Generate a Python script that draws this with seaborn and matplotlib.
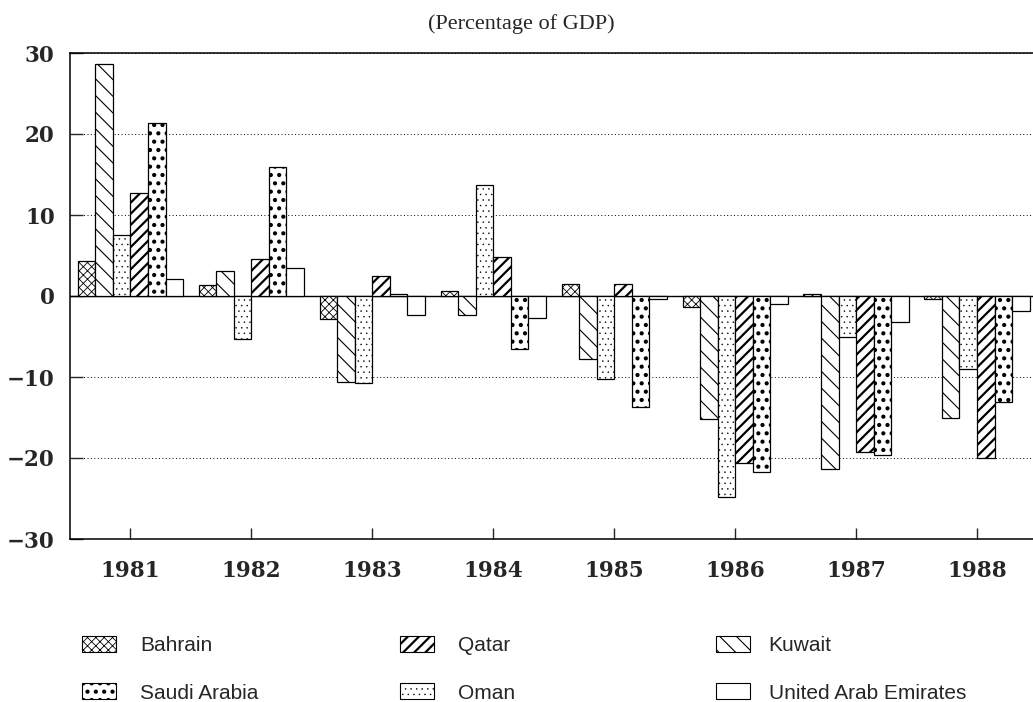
import numpy as np
import pandas as pd
import seaborn as sns
import matplotlib.pyplot as plt
from matplotlib.patches import Patch

# Budget balance by year, percent of GDP
years = ["1981", "1982", "1983", "1984", "1985", "1986", "1987", "1988"]
countries = ["Bahrain", "Kuwait", "Oman", "Qatar", "Saudi Arabia", "United Arab Emirates"]

bahrain = [4.3, 1.4, -2.9, 0.6, 1.5, -1.3, 0.3, -0.4]
kuwait = [28.6, 3.1, -10.6, -2.4, -7.8, -15.2, -21.4, -15.0]
oman = [7.5, -5.3, -10.8, 13.7, -10.3, -24.8, -5.0, -9.0]
qatar = [12.7, 4.6, 2.5, 4.8, 1.5, -20.6, -19.3, -20.0]
saudi = [21.3, 15.9, 0.3, -6.5, -13.7, -21.7, -19.6, -13.1]
uae = [2.1, 3.4, -2.4, -2.7, -0.4, -1.0, -3.2, -1.9]

yticks = [-30, -20, -10, 0, 10, 20, 30]

series = [bahrain, kuwait, oman, qatar, saudi, uae]
df = pd.DataFrame({
    "Year": years * len(countries),
    "Country": np.repeat(countries, len(years)),
    "Balance": np.concatenate(series),
})

# hatch pattern and hatch line width per country
hatches = {
    "Bahrain": ("xxxx", 0.6),
    "Kuwait": ("\\\\", 0.8),
    "Oman": ("...", 0.3),
    "Qatar": ("///", 1.6),
    "Saudi Arabia": ("..", 1.8),
    "United Arab Emirates": ("", 1.0),
}

sns.set_style("white")
plt.rcParams["font.family"] = ["DejaVu Serif"]
plt.rcParams["axes.unicode_minus"] = True

fig = plt.figure(figsize=(10.33, 7.02), dpi=100)
ax = fig.add_axes([70 / 1033, 1 - 539 / 702, (1037.5 - 70) / 1033, (539 - 53) / 702])

sns.barplot(data=df, x="Year", y="Balance", hue="Country", order=years,
            hue_order=countries, palette=["white"] * len(countries),
            saturation=1, edgecolor="black", linewidth=0.9, width=0.87,
            errorbar=None, legend=False, ax=ax, zorder=3)

for container, country in zip(ax.containers, countries):
    h, lw = hatches[country]
    for bar in container:
        bar.set_hatch(h)
        if hasattr(bar, "set_hatch_linewidth"):
            bar.set_hatch_linewidth(lw)

ax.set_xlim(-0.5, 7.5)
ax.set_ylim(-30, 30)
ax.set_yticks(yticks)
ax.set_xlabel("")
ax.set_ylabel("")

ax.grid(axis="y", linestyle=(0, (1, 2.5)), color="black", linewidth=0.7, zorder=0)
ax.axhline(0, color="black", linewidth=1.0, zorder=2)

for side in ["left", "top", "bottom"]:
    ax.spines[side].set_color("black")
    ax.spines[side].set_linewidth(1.1)
ax.spines["right"].set_visible(False)

ax.tick_params(axis="y", direction="in", length=9, width=1, pad=11, left=True)
ax.tick_params(axis="x", direction="in", length=8, width=1, pad=15, bottom=True)
for lab in ax.get_xticklabels() + ax.get_yticklabels():
    lab.set_fontfamily("DejaVu Serif")
    lab.set_fontweight("bold")
    lab.set_fontsize(15.5)

fig.text(0.505, 1 - 24 / 702, "(Percentage of GDP)", ha="center", va="center",
         family="Liberation Serif", fontsize=16)

# legend: three columns of two entries each
columns = [
    (["Bahrain", "Saudi Arabia"], 82, 1.15),
    (["Qatar", "Oman"], 400, 1.15),
    (["Kuwait", "United Arab Emirates"], 716, 0.9),
]
for names, xpix, textpad in columns:
    handles = [Patch(facecolor="white", edgecolor="black", linewidth=0.8,
                     hatch=hatches[n][0]) for n in names]
    leg = fig.legend(handles, names, loc="upper left",
                     bbox_to_anchor=(xpix / 1033, 1 - 636 / 702),
                     frameon=False, borderpad=0, borderaxespad=0,
                     handlelength=1.63, handleheight=0.8, handletextpad=textpad,
                     labelspacing=1.35, prop={"family": "Liberation Sans", "size": 15})
    for p, n in zip(leg.get_patches(), names):
        if hasattr(p, "set_hatch_linewidth"):
            p.set_hatch_linewidth(hatches[n][1])

fig.savefig("out.png", dpi=100)
